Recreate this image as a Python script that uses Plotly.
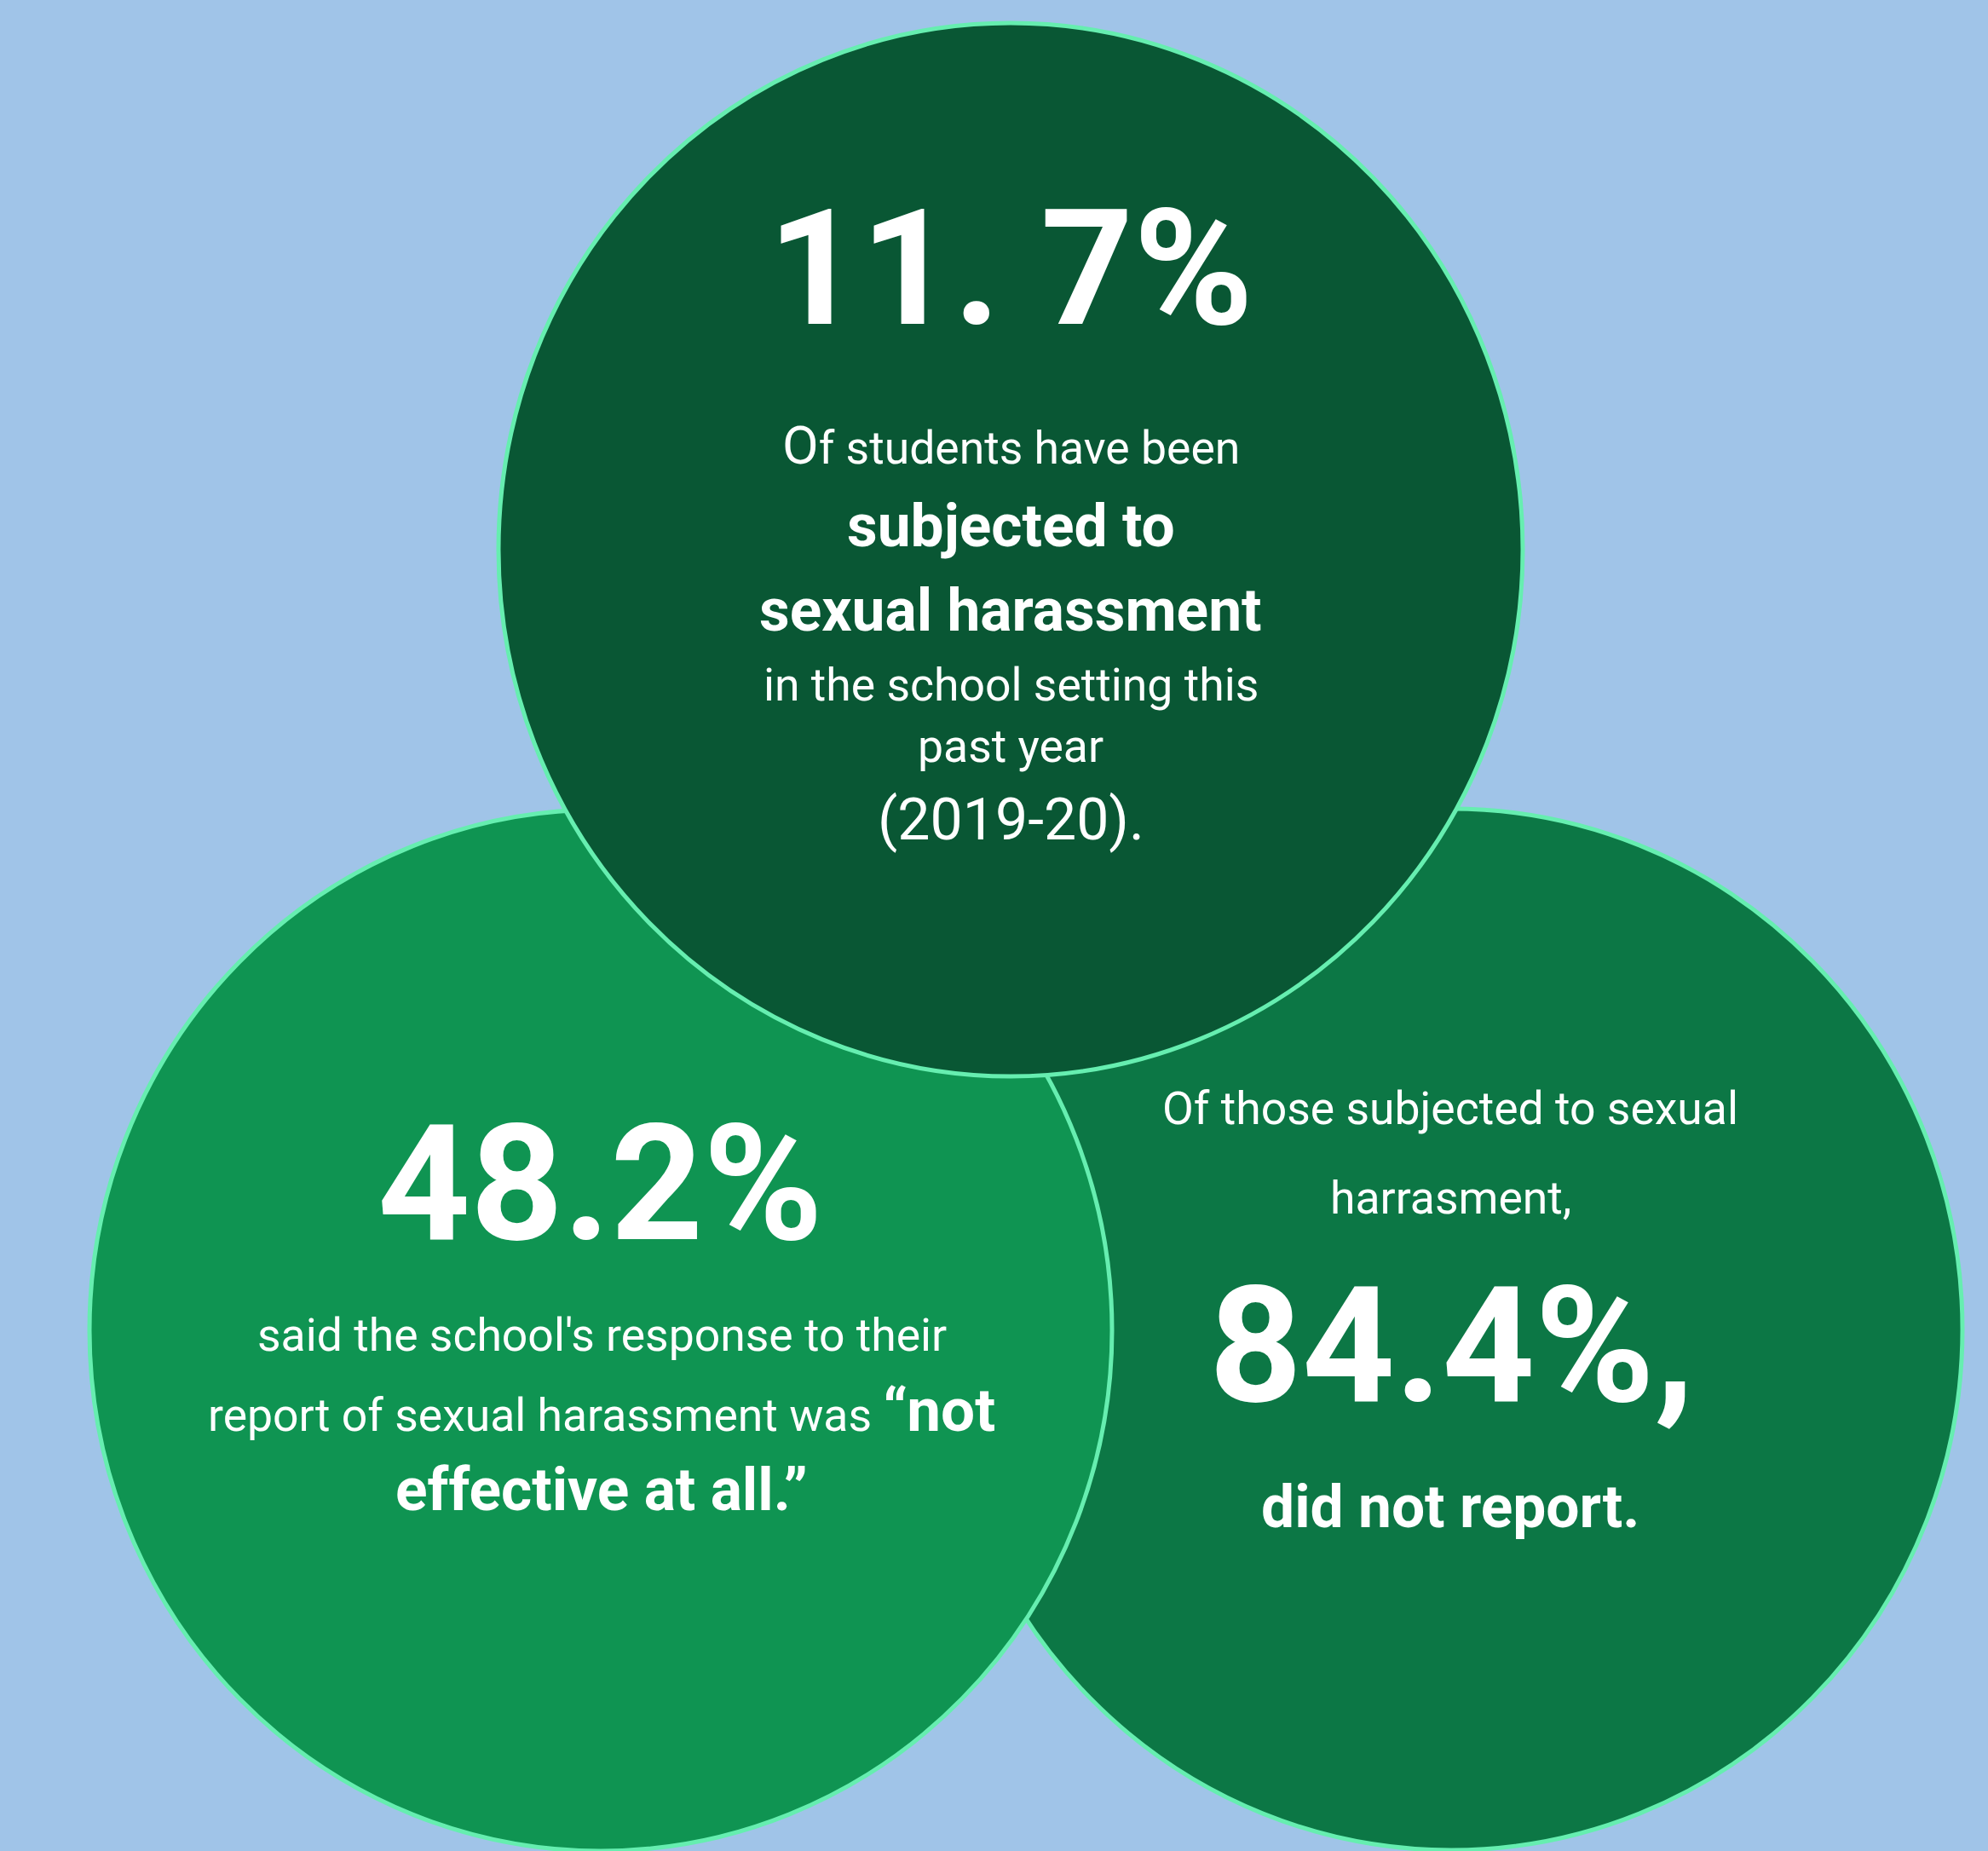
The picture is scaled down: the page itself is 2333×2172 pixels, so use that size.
import plotly.graph_objects as go

# ---------------- data ----------------
stat_values = [11.7, 48.2, 84.4]
stat_labels = ["11. 7%", "48.2%", "84.4%,"]
circle_names = ["subjected", "not effective", "did not report"]

top_lines = [
    '<span style="font-size:62px">O</span>f students have been',
    "<b>subjected to</b>",
    "<b>sexual harassment</b>",
    "in the school setting this",
    "past year",
    '<span style="font-size:68px">(2019-20).</span>',
]
left_lines = [
    "said the school's response to their",
    'report of sexual harassment was <b><span style="font-size:71px">“not</span></b>',
    "<b>effective at all.”</b>",
]
right_lines_before = [
    "Of those subjected to sexual",
    "harrasment,",
]
right_lines_after = [
    "<b>did not report.</b>",
]

# ---------------- layout / style ----------------
W, H = 2333, 2172
BG = "#A0C4E8"
BORDER = "#66EEB0"
fills = ["#095734", "#0F9452", "#0C7745"]
# geometry of the circles (center x, center y, radius x, radius y)
geom = [
    (1186, 645, 601, 618),
    (705, 1561, 600, 611),
    (1703, 1560, 600, 611),
]
FONT = "Roboto"
REG = 53.5
BOLD = 69.5
BIG = 190

fig = go.Figure()
# invisible anchor trace so the axes exist
fig.add_trace(go.Scatter(
    x=[g[0] for g in geom], y=[g[1] for g in geom],
    mode="markers", marker=dict(opacity=0), hoverinfo="skip",
    showlegend=False, text=circle_names,
))

draw_order = [2, 1, 0]  # right, left, top
for i in draw_order:
    cx, cy, rx, ry = geom[i]
    fig.add_shape(
        type="circle", xref="x", yref="y",
        x0=cx - rx, x1=cx + rx, y0=cy - ry, y1=cy + ry,
        fillcolor=fills[i], line=dict(color=BORDER, width=5),
        layer="above",
    )

def add_text(x, y, text, size, bold=False):
    fig.add_annotation(
        x=x, y=y, xref="x", yref="y", text=(f"<b>{text}</b>" if bold else text),
        showarrow=False, xanchor="center", yanchor="middle",
        font=dict(family=FONT, size=size, color="white"),
    )

# top circle
add_text(1186, 315, stat_labels[0], BIG, bold=True)
top_y = [522, 617, 716, 803, 875, 962]
top_sizes = [REG, BOLD, BOLD, REG, REG, REG]
for t, y, s in zip(top_lines, top_y, top_sizes):
    add_text(1186, y, t, s)

# left circle
add_text(704, 1389, stat_labels[1], BIG, bold=True)
left_y = [1566, 1654, 1748]
left_sizes = [REG, REG, BOLD]
for t, y, s in zip(left_lines, left_y, left_sizes):
    add_text(706, y, t, s)

# right circle
right_y_before = [1300, 1405]
for t, y in zip(right_lines_before, right_y_before):
    add_text(1702, y, t, REG)
add_text(1703, 1579, stat_labels[2], BIG, bold=True)
add_text(1702, 1768, right_lines_after[0], BOLD)

fig.update_layout(
    width=W, height=H,
    margin=dict(l=0, r=0, t=0, b=0),
    paper_bgcolor=BG, plot_bgcolor=BG,
    xaxis=dict(range=[0, W], visible=False, fixedrange=True),
    yaxis=dict(range=[H, 0], visible=False, fixedrange=True),
    showlegend=False,
)

fig.write_html("out.html")
